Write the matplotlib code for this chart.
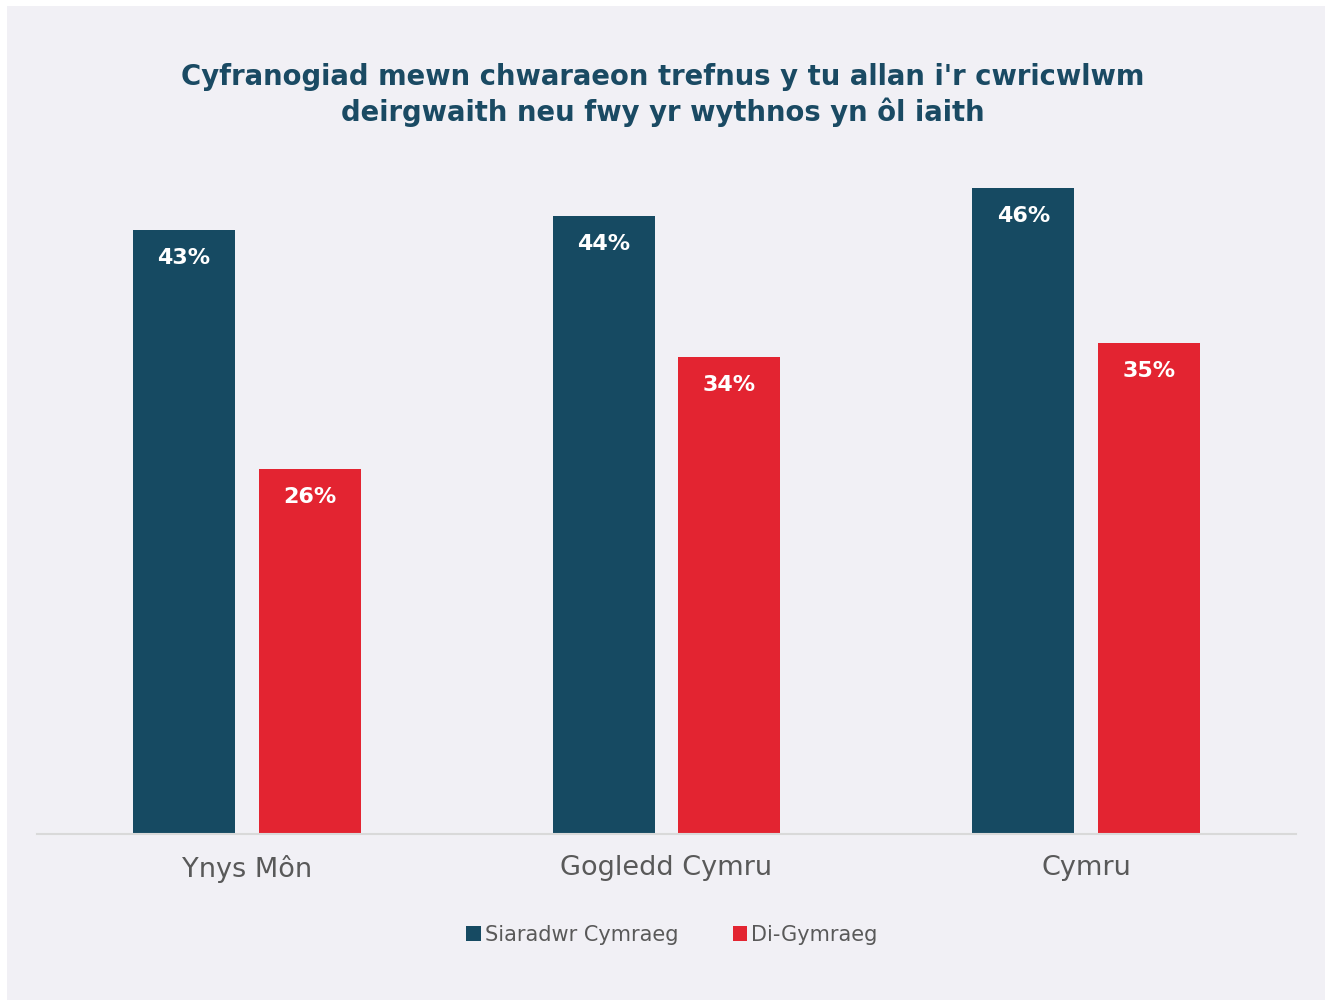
import matplotlib
matplotlib.use("Agg")
import matplotlib.pyplot as plt
import numpy as np
from matplotlib.patches import Rectangle

categories = ["Ynys Môn", "Gogledd Cymru", "Cymru"]
series_names = ["Siaradwr Cymraeg", "Di-Gymraeg"]
welsh_speakers = [43, 44, 46]
non_welsh = [26, 34, 35]
title = "Cyfranogiad mewn chwaraeon trefnus y tu allan i'r cwricwlwm\ndeirgwaith neu fwy yr wythnos yn ôl iaith"

dark = "#164a62"
red = "#e32431"
bg = "#f1f0f5"
gray = "#595959"

plt.rcParams['font.family'] = ['DejaVu Sans']

fig = plt.figure(figsize=(13.25, 10), dpi=100)
fig.patch.set_facecolor("white")
fig.patches.append(Rectangle((7/1325, 0), 1 - 7/1325, 1 - 6/1000, transform=fig.transFigure,
                             facecolor=bg, edgecolor="none", zorder=-10))

ax = fig.add_axes([37/1325, 1 - 834/1000, (1296-37)/1325, (834-150)/1000])
ax.set_facecolor("none")
ax.set_zorder(1)

x = np.arange(len(categories))
w = 0.243
off = 0.15
b1 = ax.bar(x - off, welsh_speakers, w, color=dark, label=series_names[0], zorder=2)
b2 = ax.bar(x + off, non_welsh, w, color=red, label=series_names[1], zorder=2)

for bars, vals in ((b1, welsh_speakers), (b2, non_welsh)):
    for r, v in zip(bars, vals):
        ax.annotate(f"{v}%", (r.get_x() + r.get_width()/2, v), xytext=(0, -28),
                    textcoords="offset pixels",
                    ha="center", va="center", color="white", fontsize=16, fontweight="bold",
                    zorder=3)

ax.set_xlim(-0.5, 2.5)
ax.set_ylim(0, 684/14.04)
ax.set_xticks(x)
ax.set_xticklabels(categories, fontsize=19.5, color=gray)
ax.tick_params(axis="x", length=0, pad=15)
ax.set_yticks([])
for s in ["top", "right", "left"]:
    ax.spines[s].set_visible(False)
ax.spines["bottom"].set_color("#d9d9d9")
ax.spines["bottom"].set_linewidth(1.5)

fig.text(0.5, 1 - 95/1000, title, ha="center", va="center", fontsize=19.8, fontweight="bold",
         color="#1a4a63", linespacing=1.25)

leg = fig.legend(handles=[b1, b2], labels=series_names, loc="center",
                 bbox_to_anchor=(672/1325, 1 - 935/1000), ncol=2, frameon=False,
                 fontsize=15, handlelength=0.7, handleheight=0.7, handletextpad=0.2,
                 columnspacing=2.6)
for t in leg.get_texts():
    t.set_color(gray)

fig.savefig("out.png", dpi=100, facecolor=fig.get_facecolor())
